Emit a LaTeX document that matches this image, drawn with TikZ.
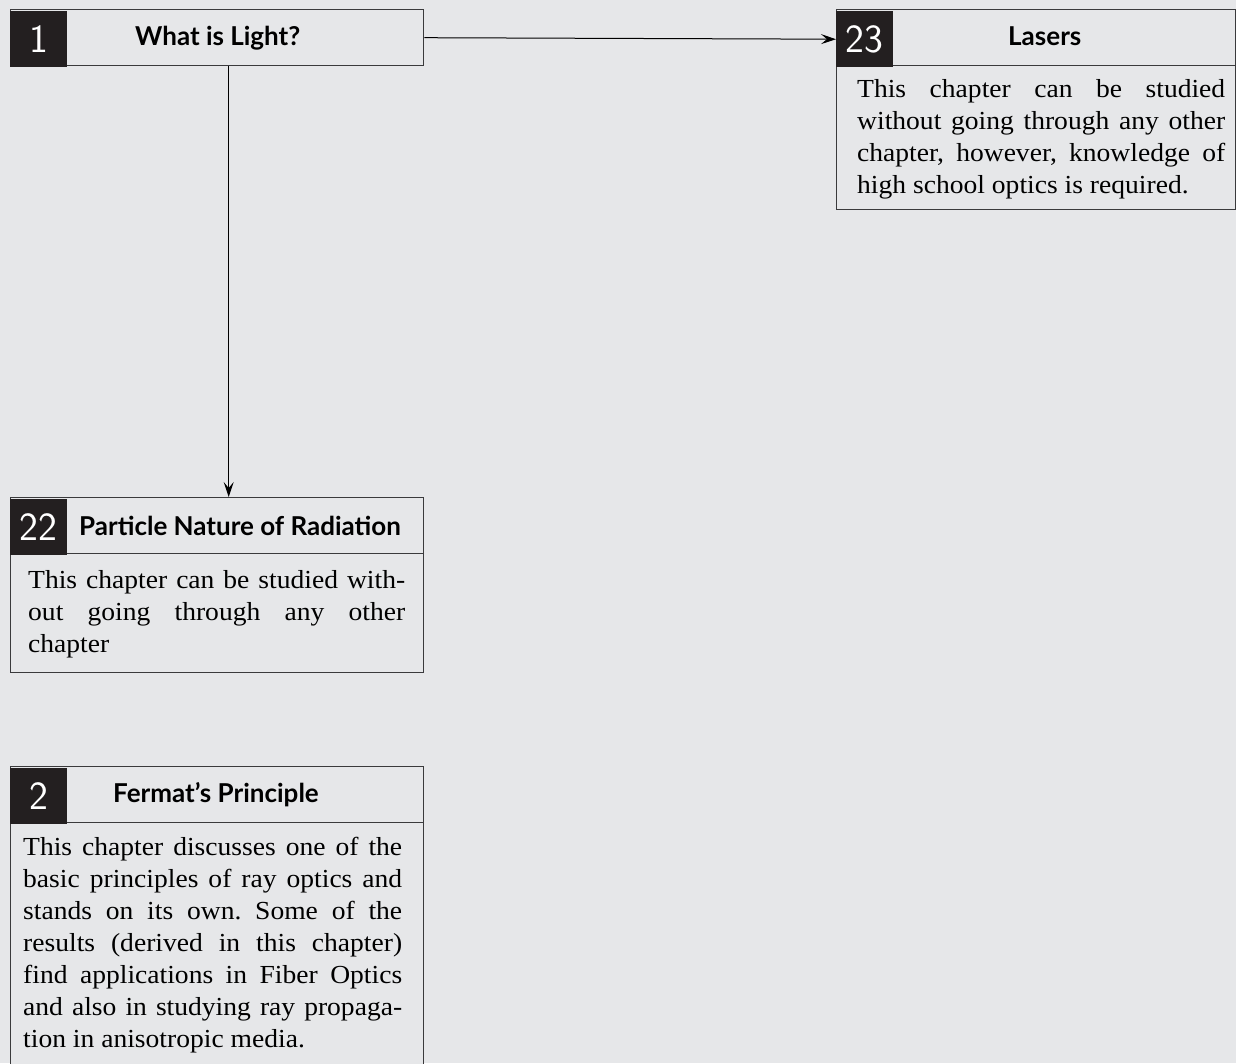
\documentclass[tikz,border=0pt]{standalone}
\usepackage{fontspec}
\setmainfont{Liberation Serif}[FakeStretch=1.06]
\newfontfamily\headfont{Lato}
\usetikzlibrary{arrows.meta}
\definecolor{bg}{HTML}{E6E7E9}
\definecolor{edge}{HTML}{3A3A3C}
\definecolor{blk}{HTML}{231F20}
\begin{document}
\hyphenpenalty=10000
\exhyphenpenalty=50
\tolerance=10000
\frenchspacing
\begin{tikzpicture}[x=1pt,y=-1pt,
  boxframe/.style={draw=edge, line width=1.4pt, fill=bg, inner sep=0pt, anchor=north west},
  numblock/.style={fill=blk, text=white, inner sep=0pt, minimum width=57pt, minimum height=56pt,
     anchor=north west, font=\sffamily\fontsize{40}{40}\selectfont},
  titletext/.style={anchor=base west, inner sep=0pt, font=\headfont\bfseries\fontsize{26}{26}\selectfont},
  bodytext/.style={anchor=base west, inner sep=0pt, text width=#1, align=justify,
     font=\fontsize{26}{32}\selectfont},
  arr/.style={draw=black, line width=1pt, -{Stealth[length=15pt,width=10pt,inset=6pt]}}
]
\useasboundingbox[fill=bg] (0,0) rectangle (1236,1063);
\clip (0,0) rectangle (1236,1063);

% Box 1
\node[boxframe, minimum width=413pt, minimum height=56pt] (h1) at (10,9) {};
\node[numblock, yshift=-2pt] (n1) at (h1.north west) {1};
\node[titletext] (t1) at (135,45) {What is Light?};

% Box 23
\node[boxframe, minimum width=399pt, minimum height=200pt] (b23) at (836,9) {};
\node[boxframe, minimum width=399pt, minimum height=56pt] (h23) at (836,9) {};
\node[numblock, yshift=-2pt] (n23) at (h23.north west) {23};
\node[titletext] (t23) at (1008,45) {Lasers};
\node[bodytext=368pt] (x23) at (857,97) {This chapter can be studied\linebreak
without going through any other\linebreak chapter, however, knowledge of\linebreak
high school optics is required.};

% Box 22
\node[boxframe, minimum width=413pt, minimum height=175pt] (b22) at (10,497) {};
\node[boxframe, minimum width=413pt, minimum height=56pt] (h22) at (10,497) {};
\node[numblock, yshift=-2pt] (n22) at (h22.north west) {22};
\node[titletext] (t22) at (79,535) {Particle Nature of Radiation};
\node[bodytext=377pt] (x22) at (28,588) {This chapter can be studied with-\linebreak
out going through any other\linebreak chapter};

% Box 2
\node[boxframe, minimum width=413pt, minimum height=320pt] (b2) at (10,766) {};
\node[boxframe, minimum width=413pt, minimum height=56pt] (h2) at (10,766) {};
\node[numblock, yshift=-2pt] (n2) at (h2.north west) {2};
\node[titletext] (t2) at (113,802) {Fermat’s Principle};
\node[bodytext=379pt] (x2) at (23,855) {This chapter discusses one of the\linebreak
basic principles of ray optics and\linebreak stands on its own. Some of the\linebreak
results (derived in this chapter)\linebreak find applications in Fiber Optics\linebreak
and also in studying ray propaga-\linebreak tion in anisotropic media.};

% Connectors
\draw[arr] (h1.east) -- (n23.west);
\draw[arr] ([xshift=11.5pt]h1.south) -- ([xshift=11.5pt]h1.south |- h22.north);
\end{tikzpicture}
\end{document}
